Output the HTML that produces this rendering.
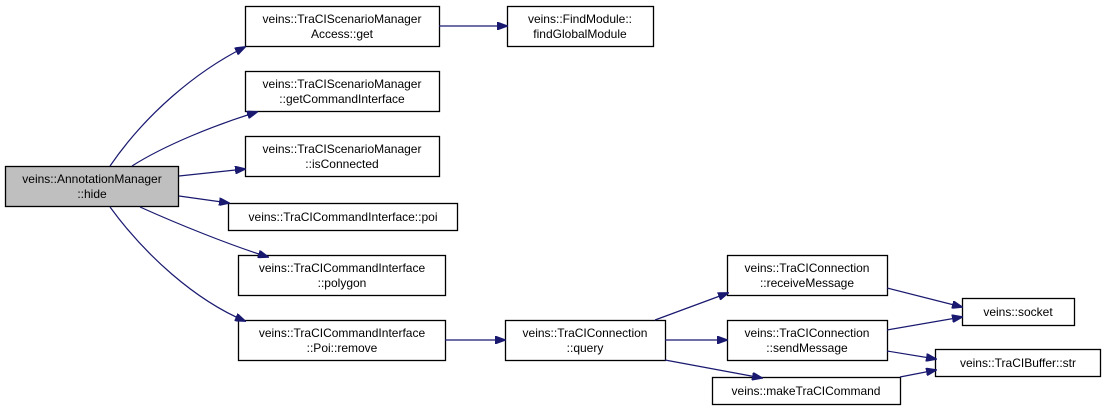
<!DOCTYPE html>
<html><head><meta charset="utf-8"><style>
html,body{margin:0;padding:0;background:#fff;}
svg{display:block}
text{font-family:"Liberation Sans",Helvetica,sans-serif;font-size:12px;fill:#000;text-anchor:middle}
rect{fill:#fff;stroke:#000;stroke-width:1.3}
path{fill:none;stroke:#191970;stroke-width:1.2}
</style></head><body>
<svg width="1105" height="417" viewBox="0 0 1105 417">
<defs><marker id="a" markerWidth="11" markerHeight="8" refX="10" refY="4" orient="auto" markerUnits="userSpaceOnUse"><polygon points="0,0 11,4 0,8" fill="#191970" stroke="#191970"/></marker></defs>
<rect x="5.5" y="166.5" width="173" height="40" style="fill:#bfbfbf"/>
<text x="92" y="183">veins::AnnotationManager</text><text x="92" y="198">::hide</text>

<rect x="245.5" y="6.5" width="194" height="40"/><text x="342" y="23">veins::TraCIScenarioManager</text><text x="342" y="38">Access::get</text>
<rect x="245.5" y="71.5" width="194" height="40"/><text x="342" y="88">veins::TraCIScenarioManager</text><text x="342" y="103">::getCommandInterface</text>
<rect x="245.5" y="136.5" width="194" height="40"/><text x="342" y="153">veins::TraCIScenarioManager</text><text x="342" y="168">::isConnected</text>
<rect x="228.5" y="203.5" width="229" height="27"/><text x="343" y="221">veins::TraCICommandInterface::poi</text>
<rect x="238.5" y="255.5" width="207" height="40"/><text x="342" y="272">veins::TraCICommandInterface</text><text x="342" y="287">::polygon</text>
<rect x="238.5" y="320.5" width="207" height="40"/><text x="342" y="337">veins::TraCICommandInterface</text><text x="342" y="352">::Poi::remove</text>
<rect x="507.5" y="6.5" width="146" height="40"/><text x="580" y="23">veins::FindModule::</text><text x="580" y="38">findGlobalModule</text>
<rect x="505.5" y="320.5" width="160" height="40"/><text x="585" y="337">veins::TraCIConnection</text><text x="585" y="352">::query</text>
<rect x="727.5" y="255.5" width="160" height="40"/><text x="807" y="272">veins::TraCIConnection</text><text x="807" y="287">::receiveMessage</text>
<rect x="727.5" y="320.5" width="160" height="40"/><text x="807" y="337">veins::TraCIConnection</text><text x="807" y="352">::sendMessage</text>
<rect x="712.5" y="377.5" width="188" height="27"/><text x="806" y="395">veins::makeTraCICommand</text>
<rect x="962.5" y="298.5" width="112" height="27"/><text x="1018" y="316">veins::socket</text>
<rect x="935.5" y="349.5" width="165" height="27"/><text x="1018" y="367">veins::TraCIBuffer::str</text>

<path d="M110,166 C145,115 195,72 245,47" marker-end="url(#a)"/>
<path d="M132,166 C165,145 215,125 257,112" marker-end="url(#a)"/>
<path d="M179,176 L245,169" marker-end="url(#a)"/>
<path d="M179,196 L229,203" marker-end="url(#a)"/>
<path d="M140,207 C180,225 230,245 268,257" marker-end="url(#a)"/>
<path d="M110,207 C145,255 195,300 245,321" marker-end="url(#a)"/>
<path d="M439,26 L507,26" marker-end="url(#a)"/>
<path d="M445,340 L505,340" marker-end="url(#a)"/>
<path d="M655,320 L728,293" marker-end="url(#a)"/>
<path d="M665,340 L727,340" marker-end="url(#a)"/>
<path d="M665,360 L762,378" marker-end="url(#a)"/>
<path d="M887,288 L962,307" marker-end="url(#a)"/>
<path d="M887,330 L962,317" marker-end="url(#a)"/>
<path d="M887,351 L936,359" marker-end="url(#a)"/>
<path d="M900,377 L936,370" marker-end="url(#a)"/>
</svg>
</body></html>
